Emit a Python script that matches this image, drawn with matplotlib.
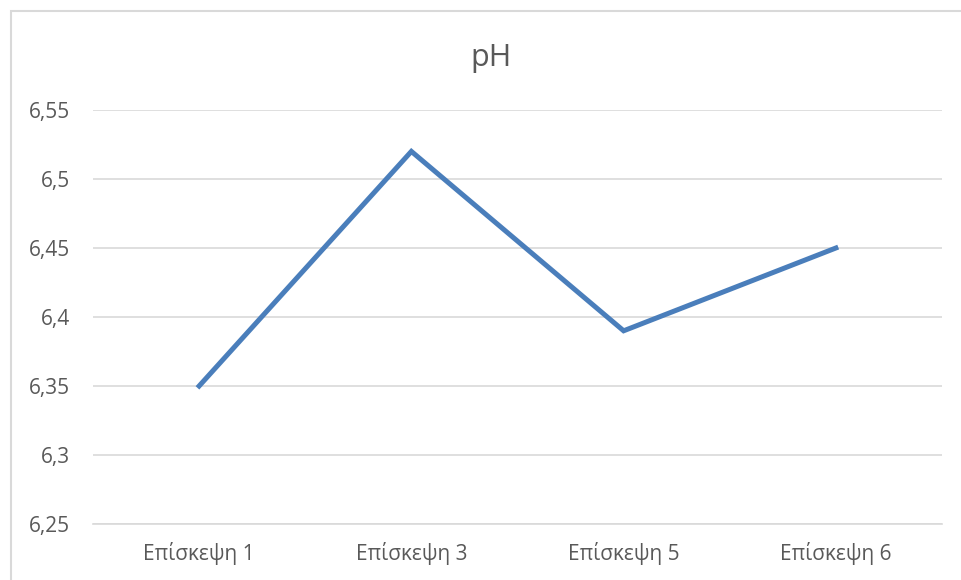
import matplotlib.pyplot as plt
from matplotlib.patches import Rectangle
from matplotlib.ticker import FuncFormatter

visits = ['Επίσκεψη 1', 'Επίσκεψη 3', 'Επίσκεψη 5', 'Επίσκεψη 6']
ph_values = [6.35, 6.52, 6.39, 6.45]
y_ticks = [6.25, 6.3, 6.35, 6.4, 6.45, 6.5, 6.55]

plt.rcParams['font.family'] = ['Open Sans', 'DejaVu Sans']
text_color = '#595959'
grid_color = '#d9d9d9'

fig = plt.figure(figsize=(9.62, 5.80), dpi=100)
ax = fig.add_axes([93 / 962, 1 - 524 / 580, 849 / 962, 414 / 580])

# chart border (cut off at right and bottom in the reference)
fig.patches.append(Rectangle((11 / 962, -0.1), 1.2, 1 - 11 / 580 + 0.1,
                             transform=fig.transFigure, fill=False,
                             edgecolor=grid_color, linewidth=1.5))

ax.plot(range(len(visits)), ph_values, color='#4a7ebb', linewidth=3.6,
        solid_joinstyle='miter', zorder=3)

ax.set_xlim(-0.5, len(visits) - 0.5)
ax.set_ylim(6.25, 6.55)
ax.set_yticks(y_ticks)
ax.yaxis.set_major_formatter(FuncFormatter(lambda v, p: f'{v:g}'.replace('.', ',')))
ax.set_xticks(range(len(visits)))
ax.set_xticklabels(visits)

ax.grid(axis='y', color=grid_color, linewidth=1.2)
ax.set_axisbelow(True)
for side in ['top', 'right', 'left']:
    ax.spines[side].set_visible(False)
ax.spines['bottom'].set_color(grid_color)
ax.spines['bottom'].set_linewidth(1.2)
ax.tick_params(length=0, labelsize=15, colors=text_color)
ax.tick_params(axis='x', pad=13)
ax.tick_params(axis='y', pad=16.5)

fig.text(491 / 962, 1 - 58 / 580, 'pH', ha='center', va='center',
         fontsize=22, color=text_color)

fig.savefig('out.png', dpi=100)
